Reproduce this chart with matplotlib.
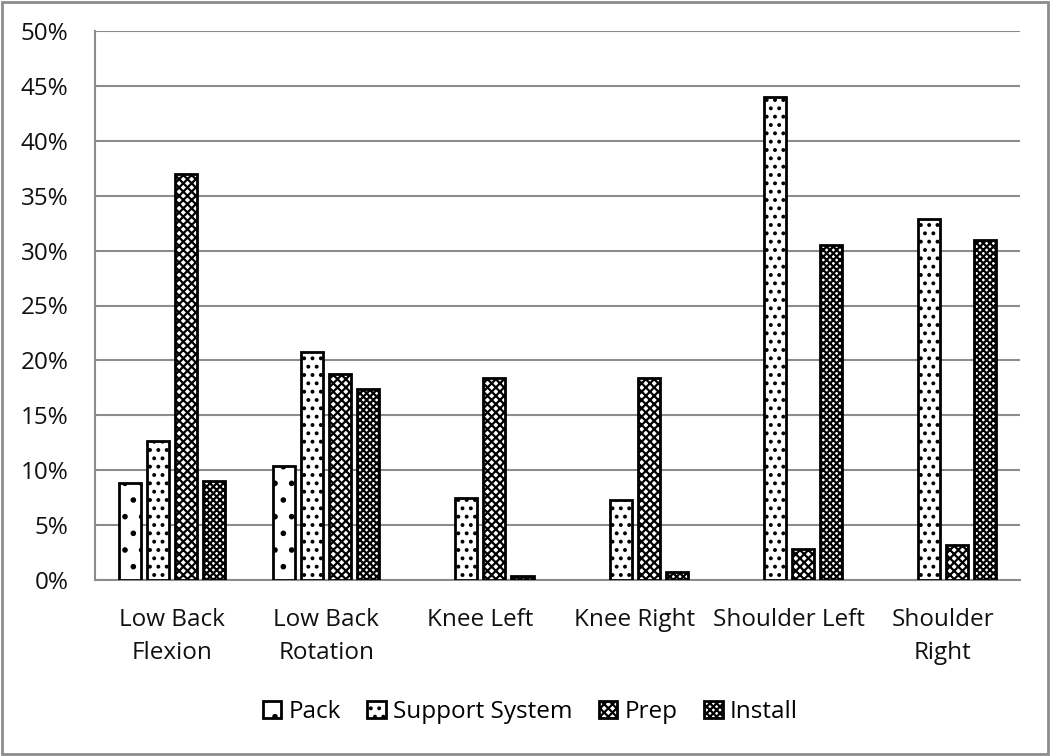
import numpy as np
import matplotlib.pyplot as plt
from matplotlib.patches import Rectangle

plt.rcParams['font.family'] = ['Open Sans', 'DejaVu Sans']
plt.rcParams['hatch.linewidth'] = 1.6

categories = ['Low Back\nFlexion', 'Low Back\nRotation', 'Knee Left', 'Knee Right',
              'Shoulder Left', 'Shoulder\nRight']
series = ['Pack', 'Support System', 'Prep', 'Install']
pack = [8.8, 10.4, 0, 0, 0, 0]
support = [12.7, 20.8, 7.5, 7.3, 44.0, 32.9]
prep = [37.0, 18.8, 18.4, 18.4, 2.8, 3.2]
install = [9.0, 17.4, 0.4, 0.7, 30.5, 31.0]
values = [pack, support, prep, install]
hatches = ['.', '..', 'xxxx', 'xxxxx']

fig = plt.figure(figsize=(10.5, 7.56), dpi=100)
ax = fig.add_axes([95/1050, 1 - 580/756, 925/1050, 549/756])

x = np.arange(len(categories))
width = 0.143
step = 0.182
for i, (name, vals) in enumerate(zip(series, values)):
    bars = ax.bar(x + (i - 1.5) * step, vals, width, label=name, facecolor='white',
                  edgecolor='black', linewidth=2, hatch=hatches[i], zorder=3)
    # zero-height bars leave no visible mark in the original
    for b, v in zip(bars, vals):
        if v == 0:
            b.set_visible(False)

ax.set_xlim(-0.5, len(categories) - 0.5)
ax.set_ylim(0, 50)
ax.set_yticks(np.arange(0, 51, 5))
ax.set_yticklabels([f'{v}%' for v in range(0, 51, 5)])
ax.set_xticks(x)
ax.set_xticklabels(categories, linespacing=1.5)
ax.yaxis.grid(True, color='#8c8c8c', linewidth=1.5, zorder=0)
ax.tick_params(axis='both', length=0, labelsize=17.5, colors='#111111')
ax.tick_params(axis='y', pad=19)
ax.tick_params(axis='x', pad=20)
for s in ['top', 'right']:
    ax.spines[s].set_visible(False)
for s in ['left', 'bottom']:
    ax.spines[s].set_color('#8c8c8c')
    ax.spines[s].set_linewidth(1.5)

ax.legend(loc='center', bbox_to_anchor=(0.505, 1 - 712/756), bbox_transform=fig.transFigure,
          ncol=4, frameon=False, fontsize=17.5, handlelength=0.75, handleheight=0.75,
          handletextpad=0.3, columnspacing=1.1)

fig.patches.append(Rectangle((0.002, 0.002), 0.996, 0.996, transform=fig.transFigure,
                             fill=False, edgecolor='#8c8c8c', linewidth=2))

fig.savefig('out.png', dpi=100)
